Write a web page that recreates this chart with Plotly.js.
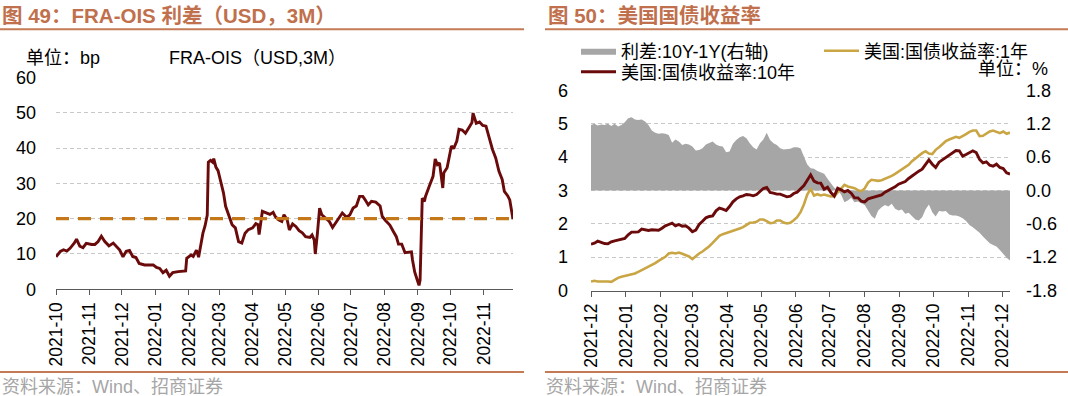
<!DOCTYPE html>
<html><head><meta charset="utf-8">
<script src="https://cdn.plot.ly/plotly-3.0.1.min.js"></script>
<style>html,body{margin:0;padding:0;background:#fff}#chart{width:1068px;height:396px}</style>
</head><body><div id="chart"></div>
<script>
// ---------- Left panel: FRA-OIS spread (bp) ----------
const fraDates = ['2021-10-01','2021-10-05','2021-10-08','2021-10-11','2021-10-14','2021-10-18','2021-10-20','2021-10-23','2021-10-26','2021-10-29',
'2021-11-03','2021-11-06','2021-11-09','2021-11-12','2021-11-15','2021-11-19','2021-11-23','2021-11-26','2021-11-29',
'2021-12-02','2021-12-05','2021-12-08','2021-12-11','2021-12-14','2021-12-17','2021-12-22','2021-12-27','2021-12-30',
'2022-01-02','2022-01-05','2022-01-08','2022-01-11','2022-01-14','2022-01-17','2022-01-22','2022-01-26','2022-01-29','2022-01-30',
'2022-02-03','2022-02-05','2022-02-08','2022-02-10','2022-02-12','2022-02-14','2022-02-16','2022-02-18','2022-02-19','2022-02-21','2022-02-23','2022-02-24','2022-02-26','2022-02-28',
'2022-03-02','2022-03-05','2022-03-07','2022-03-10','2022-03-13','2022-03-16','2022-03-19','2022-03-22','2022-03-25','2022-03-28',
'2022-04-01','2022-04-04','2022-04-06','2022-04-07','2022-04-10','2022-04-13','2022-04-17','2022-04-20','2022-04-22','2022-04-25','2022-04-28','2022-04-30',
'2022-05-03','2022-05-05','2022-05-08','2022-05-11','2022-05-14','2022-05-17','2022-05-20','2022-05-24','2022-05-26','2022-05-28','2022-05-29','2022-05-31',
'2022-06-02','2022-06-04','2022-06-08','2022-06-11','2022-06-14','2022-06-17','2022-06-20','2022-06-23','2022-06-27','2022-06-30',
'2022-07-03','2022-07-06','2022-07-09','2022-07-12','2022-07-14','2022-07-17','2022-07-20','2022-07-24','2022-07-28','2022-07-30',
'2022-08-02','2022-08-06','2022-08-09','2022-08-12','2022-08-14','2022-08-17','2022-08-20','2022-08-23','2022-08-26','2022-08-27','2022-08-29','2022-08-31',
'2022-09-02','2022-09-03','2022-09-04','2022-09-05','2022-09-07','2022-09-08','2022-09-12','2022-09-15','2022-09-17','2022-09-19','2022-09-21','2022-09-24','2022-09-25','2022-09-28',
'2022-10-02','2022-10-04','2022-10-07','2022-10-09','2022-10-12','2022-10-15','2022-10-19','2022-10-21','2022-10-22','2022-10-25','2022-10-28','2022-10-31',
'2022-11-03','2022-11-06','2022-11-09','2022-11-12','2022-11-15','2022-11-18','2022-11-20','2022-11-23','2022-11-25','2022-11-28'];
const fraValues = [9.2,10.7,11.2,10.8,11.6,13.1,14.2,12.2,11.8,13.0,
12.7,12.7,13.5,15.0,13.6,12.3,13.1,12.2,11.1,
9.2,10.8,11.0,9.3,9.0,7.3,6.9,6.8,6.9,
6.2,5.9,4.7,5.4,3.7,4.7,5.0,5.0,5.2,8.8,
9.7,9.3,11.1,9.1,13.1,15.9,18.0,21.0,36.0,36.5,36.0,37.0,34.6,33.6,
31.1,27.3,23.5,20.7,18.3,17.4,13.5,13.1,15.9,16.9,
17.4,18.6,18.3,15.5,22.1,21.7,21.2,21.8,20.6,19.7,19.2,21.1,
19.7,16.8,18.5,17.8,16.6,16.0,14.9,14.7,15.4,14.0,10.0,15.9,
23.0,21.1,20.1,19.2,17.5,18.9,20.1,21.6,20.4,21.1,
23.0,23.6,26.3,26.3,25.4,23.9,24.9,24.7,23.6,20.6,
19.5,18.2,16.5,14.9,12.8,12.8,10.4,10.4,10.6,8.3,4.9,3.0,
1.1,2.6,14.0,25.8,24.9,26.3,29.6,32.0,36.9,35.3,35.8,28.7,33.0,34.4,
40.6,39.8,42.0,45.3,45.1,44.2,46.2,47.2,49.9,47.0,47.4,46.4,
46.2,42.5,39.6,37.2,33.4,31.1,27.7,26.5,25.3,19.8];
const fraReference = 20;

// ---------- Right panel: US Treasury yields (%) ----------
const yieldDates = ['2021-12-01','2021-12-04','2021-12-07','2021-12-10','2021-12-13','2021-12-16','2021-12-19','2021-12-22','2021-12-25','2021-12-28','2021-12-31',
'2022-01-03','2022-01-06','2022-01-09','2022-01-12','2022-01-15','2022-01-18','2022-01-21','2022-01-24','2022-01-27','2022-01-30',
'2022-02-02','2022-02-05','2022-02-08','2022-02-11','2022-02-14','2022-02-17','2022-02-20','2022-02-23','2022-02-26',
'2022-03-01','2022-03-04','2022-03-07','2022-03-10','2022-03-13','2022-03-16','2022-03-19','2022-03-22','2022-03-25','2022-03-28','2022-03-31',
'2022-04-03','2022-04-06','2022-04-09','2022-04-12','2022-04-15','2022-04-18','2022-04-21','2022-04-24','2022-04-27','2022-04-30',
'2022-05-03','2022-05-06','2022-05-09','2022-05-12','2022-05-15','2022-05-18','2022-05-21','2022-05-24','2022-05-27','2022-05-30',
'2022-06-02','2022-06-05','2022-06-08','2022-06-11','2022-06-14','2022-06-17','2022-06-20','2022-06-23','2022-06-26','2022-06-29',
'2022-07-02','2022-07-05','2022-07-08','2022-07-11','2022-07-14','2022-07-17','2022-07-20','2022-07-23','2022-07-26','2022-07-29',
'2022-08-01','2022-08-04','2022-08-07','2022-08-10','2022-08-13','2022-08-16','2022-08-19','2022-08-22','2022-08-25','2022-08-28','2022-08-31',
'2022-09-03','2022-09-06','2022-09-09','2022-09-12','2022-09-15','2022-09-18','2022-09-21','2022-09-24','2022-09-27','2022-09-30',
'2022-10-03','2022-10-06','2022-10-09','2022-10-12','2022-10-15','2022-10-18','2022-10-21','2022-10-24','2022-10-27','2022-10-30',
'2022-11-02','2022-11-05','2022-11-08','2022-11-11','2022-11-14','2022-11-17','2022-11-20','2022-11-23','2022-11-26','2022-11-29',
'2022-12-02','2022-12-05','2022-12-08'];
const yield10y = [1.39,1.42,1.48,1.44,1.41,1.40,1.46,1.49,1.52,1.54,1.56,
1.67,1.75,1.75,1.76,1.84,1.81,1.80,1.82,1.81,1.81,
1.87,1.94,1.98,2.02,1.94,1.98,1.93,1.94,1.87,
1.76,1.81,1.98,2.08,2.18,2.22,2.24,2.39,2.47,2.44,2.40,
2.52,2.66,2.75,2.81,2.84,2.88,2.87,2.84,2.88,2.96,
3.06,3.09,2.94,2.92,2.89,2.89,2.86,2.81,2.83,2.91,
2.95,3.04,3.15,3.31,3.47,3.28,3.23,3.22,3.04,3.10,
2.94,2.83,3.07,3.02,2.96,3.00,2.92,2.78,2.78,2.68,
2.66,2.75,2.78,2.80,2.83,2.87,2.95,3.00,3.07,3.11,3.19,
3.22,3.27,3.36,3.44,3.50,3.58,3.64,3.77,3.92,3.79,
3.69,3.85,3.92,3.97,4.04,4.12,4.20,4.19,4.03,4.08,
4.14,4.19,4.14,3.93,3.83,3.86,3.76,3.73,3.79,3.69,
3.66,3.53,3.49];
const yield1y = [0.27,0.29,0.27,0.27,0.29,0.27,0.26,0.32,0.38,0.41,0.43,
0.45,0.48,0.51,0.56,0.61,0.65,0.70,0.76,0.82,0.89,
0.94,1.01,1.11,1.13,1.11,1.14,1.10,1.06,1.02,
0.94,1.04,1.11,1.17,1.24,1.33,1.43,1.54,1.64,1.69,1.72,
1.76,1.79,1.82,1.86,1.90,1.96,2.03,2.04,2.06,2.13,
2.13,2.08,2.02,2.03,2.10,2.10,2.04,2.01,2.03,2.11,
2.20,2.35,2.58,2.88,3.05,2.85,2.89,2.85,2.88,2.85,
2.82,2.83,2.95,3.08,3.17,3.12,3.10,3.07,3.01,2.98,
3.06,3.24,3.32,3.31,3.29,3.31,3.35,3.39,3.44,3.50,3.57,
3.63,3.69,3.77,3.88,3.97,4.04,4.12,4.18,4.11,4.09,
4.22,4.30,4.40,4.48,4.53,4.56,4.61,4.58,4.63,4.69,
4.76,4.80,4.80,4.63,4.64,4.70,4.77,4.80,4.77,4.72,
4.77,4.70,4.74];
const spread10y1y = [1.18,1.20,1.17,1.19,1.18,1.20,1.16,1.20,1.15,1.18,1.23,
1.30,1.32,1.28,1.27,1.28,1.24,1.18,1.08,1.04,1.02,
1.03,1.02,1.00,0.86,0.92,0.88,0.82,0.84,0.83,
0.79,0.72,0.73,0.76,0.83,0.86,0.88,0.83,0.80,0.79,0.69,
0.70,0.84,0.91,0.96,0.98,0.94,0.85,0.78,0.74,0.85,
0.92,1.04,0.91,0.85,0.82,0.76,0.74,0.74,0.75,0.78,
0.78,0.76,0.61,0.47,0.40,0.39,0.35,0.32,0.30,0.21,
0.12,0.05,0.01,-0.07,-0.21,-0.18,-0.13,-0.21,-0.20,-0.23,
-0.26,-0.36,-0.46,-0.51,-0.36,-0.30,-0.26,-0.29,-0.24,-0.33,-0.36,
-0.34,-0.42,-0.40,-0.47,-0.52,-0.54,-0.48,-0.34,-0.25,-0.39,
-0.47,-0.37,-0.38,-0.37,-0.43,-0.45,-0.45,-0.47,-0.50,-0.55,
-0.62,-0.66,-0.71,-0.76,-0.83,-0.90,-0.95,-0.98,-1.01,-1.07,
-1.15,-1.21,-1.26];
const rightAxisVals = [1.8,1.2,0.6,0,-0.6,-1.2,-1.8];
const rightAxisText = ['1.8','1.2','0.6','0.0','-0.6','-1.2','-1.8'];

const seriesNames = ['利差:10Y-1Y(右轴)','美国:国债收益率:1年','美国:国债收益率:10年'];

const FONT = '"Liberation Sans", Arial, "Noto Sans CJK SC", sans-serif';
const W = 1068, H = 396;
const px = v => v / W;
const py = v => (H - v) / H;

const MAROON = '#6a0a0a', GOLD = '#c9a544', GRAY = '#a6a6a6', ORANGE = '#c4781a';
const ACCENT = '#c0704c', LINEACC = '#c47a55';
const gridStyle = {showgrid:true, gridcolor:'#c8c8c8', gridwidth:1, griddash:'4px,3px'};
const xStyle = {type:'date', dtick:'M1', tickformat:'%Y-%m', tickangle:-90, ticks:'outside', ticklen:5,
  tickwidth:1, tickcolor:'#595959', showline:true, linecolor:'#595959', linewidth:1, showgrid:false,
  zeroline:false, tickfont:{size:17.5, color:'#000'}, fixedrange:true};

const traces = [
  {x:fraDates, y:fraValues, type:'scatter', mode:'lines', xaxis:'x', yaxis:'y',
   line:{color:MAROON, width:2.9}, showlegend:false, name:'FRA-OIS（USD,3M）'},
  {x:[fraDates[0], fraDates[fraDates.length-1]], y:[fraReference, fraReference], type:'scatter', mode:'lines',
   xaxis:'x', yaxis:'y', line:{color:ORANGE, width:3.4, dash:'13px,9px'}, showlegend:false},
  {x:yieldDates, y:spread10y1y, type:'scatter', mode:'lines', fill:'tozeroy', fillcolor:GRAY,
   line:{color:GRAY, width:0}, xaxis:'x2', yaxis:'y3', name:seriesNames[0], legend:'legend'},
  {x:yieldDates, y:yield1y, type:'scatter', mode:'lines', line:{color:GOLD, width:2.6},
   xaxis:'x2', yaxis:'y4', name:seriesNames[1], legend:'legend'},
  {x:yieldDates, y:yield10y, type:'scatter', mode:'lines', line:{color:MAROON, width:2.9},
   xaxis:'x2', yaxis:'y4', name:seriesNames[2], legend:'legend2'}
];

const legendBase = {orientation:'h', xanchor:'left', yanchor:'middle', bgcolor:'rgba(0,0,0,0)',
  font:{family:FONT, size:18, color:'#000'}, itemwidth:35, entrywidth:193, entrywidthmode:'pixels',
  traceorder:'normal', itemclick:false, itemdoubleclick:false, borderwidth:0};

const layout = {
  width:W, height:H, margin:{l:0, r:0, t:0, b:0, pad:0},
  paper_bgcolor:'#fff', plot_bgcolor:'rgba(0,0,0,0)',
  font:{family:FONT, size:18, color:'#000'},
  showlegend:true, hovermode:false,
  xaxis:Object.assign({}, xStyle, {domain:[px(56), px(513)], anchor:'y',
     range:[fraDates[0], fraDates[fraDates.length-1]], tick0:'2021-10-01'}),
  yaxis:Object.assign({}, gridStyle, {domain:[py(289.3), py(77.4)], anchor:'x', range:[0,60], dtick:10,
     zeroline:false, showline:false, ticks:'', ticklabelstandoff:19, tickfont:{size:18, color:'#000'}, fixedrange:true}),
  xaxis2:Object.assign({}, xStyle, {domain:[px(591), px(1010)], anchor:'y3',
     range:[yieldDates[0], yieldDates[yieldDates.length-1]], tick0:'2021-12-01'}),
  yaxis3:{domain:[py(290.5), py(90.5)], anchor:'x2', side:'right', range:[-1.8,1.8],
     tickvals:rightAxisVals, ticktext:rightAxisText, showgrid:false, zeroline:false, showline:false,
     ticks:'', ticklabelstandoff:15, tickfont:{size:18, color:'#000'}, fixedrange:true},
  yaxis4:Object.assign({}, gridStyle, {overlaying:'y3', anchor:'x2', side:'left', range:[0,6], dtick:1,
     zeroline:false, showline:false, ticks:'', ticklabelstandoff:22, tickfont:{size:18, color:'#000'}, fixedrange:true}),
  legend:Object.assign({}, legendBase, {x:px(576), y:py(51)}),
  legend2:Object.assign({}, legendBase, {x:px(576), y:py(72)}),
  shapes:[
    {type:'line', xref:'paper', yref:'paper', x0:0, x1:px(524), y0:py(29.3), y1:py(29.3), line:{color:LINEACC, width:2}},
    {type:'line', xref:'paper', yref:'paper', x0:px(545), x1:1, y0:py(29.3), y1:py(29.3), line:{color:LINEACC, width:2}},
    {type:'line', xref:'paper', yref:'paper', x0:0, x1:px(524), y0:py(372), y1:py(372), line:{color:LINEACC, width:2}},
    {type:'line', xref:'paper', yref:'paper', x0:px(545), x1:1, y0:py(372), y1:py(372), line:{color:LINEACC, width:2}}
  ],
  annotations:[
    {text:'<b>图 49：FRA-OIS 利差（USD，3M）</b>', x:px(1), y:py(15.5), font:{size:20.5, color:ACCENT}},
    {text:'<b>图 50：美国国债收益率</b>', x:px(547), y:py(15.5), font:{size:20.5, color:ACCENT}},
    {text:'单位：bp', x:px(25), y:py(58), font:{size:18, color:'#000'}},
    {text:'FRA-OIS（USD,3M）', x:px(168), y:py(58), font:{size:18, color:'#000'}},
    {text:'单位：%', x:px(1049), y:py(69), xanchor:'right', font:{size:18, color:'#000'}},
    {text:'资料来源：Wind、招商证券', x:px(1), y:py(387), font:{size:18, color:'#a6a6a6'}},
    {text:'资料来源：Wind、招商证券', x:px(545), y:py(387), font:{size:18, color:'#a6a6a6'}}
  ].map(a => Object.assign({xref:'paper', yref:'paper', xanchor:'left', yanchor:'middle', showarrow:false, borderpad:0}, a))
};

Plotly.newPlot('chart', traces, layout, {staticPlot:true, displayModeBar:false});
</script>
</body></html>
